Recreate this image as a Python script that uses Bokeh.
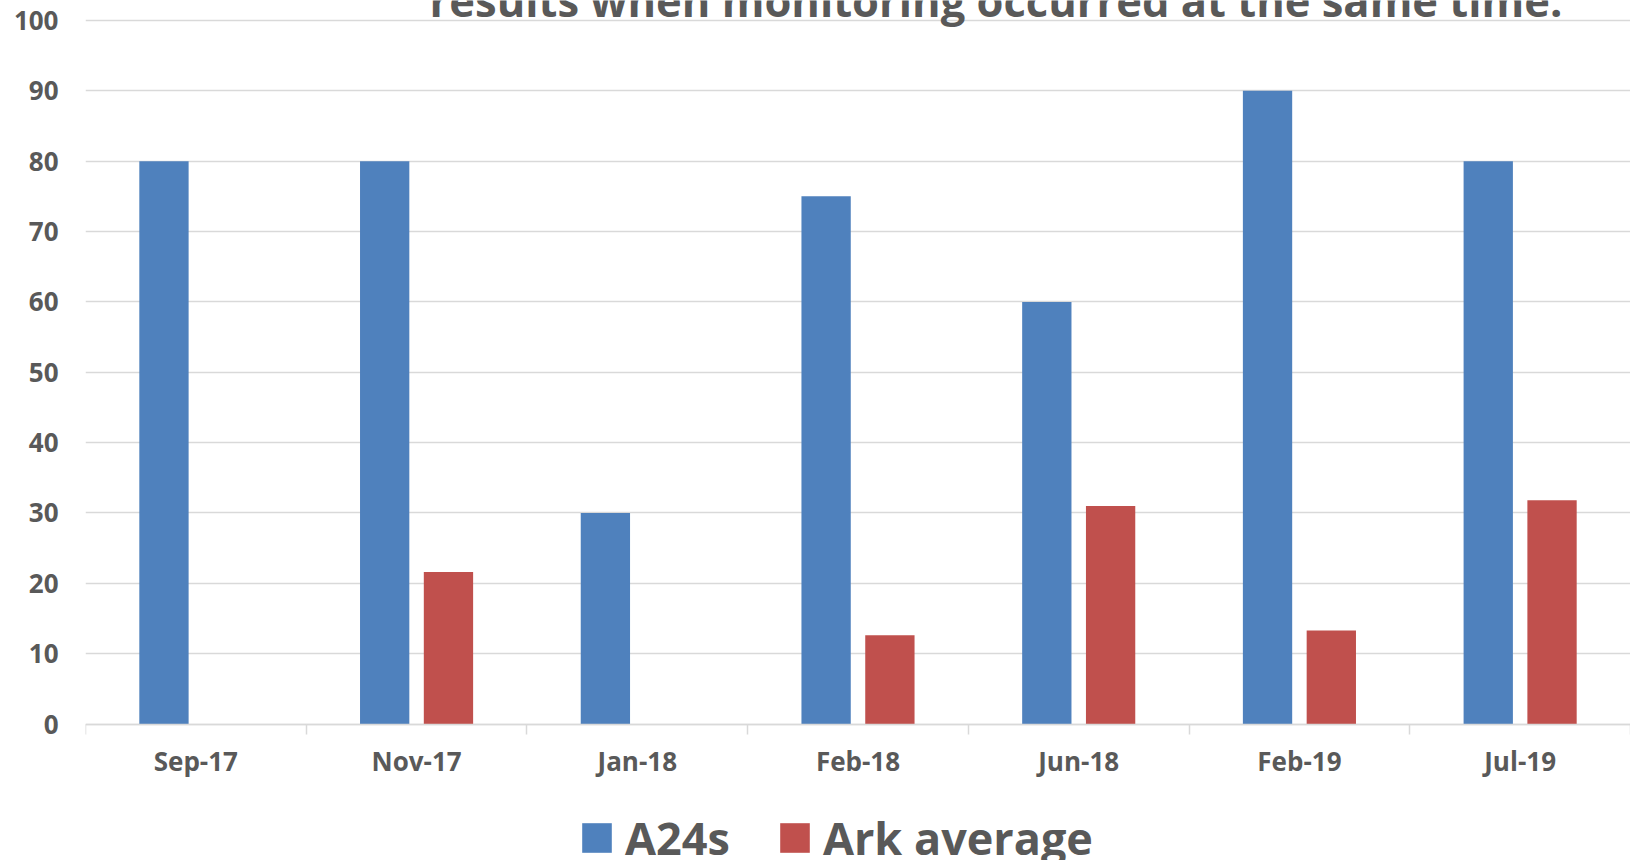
from bokeh.plotting import figure
from bokeh.models import (Range1d, FixedTicker, LinearAxis, Legend, LegendItem, Label,
                          ColumnDataSource)
from bokeh.transform import dodge
from bokeh.embed import file_html
from bokeh.resources import INLINE

categories = ["Sep-17", "Nov-17", "Jan-18", "Feb-18", "Jun-18", "Feb-19", "Jul-19"]
a24s = [80, 80, 30, 75, 60, 90, 80]
ark_average = [float("nan"), 21.6, float("nan"), 12.6, 31.0, 13.3, 31.8]
y_ticks = [0, 10, 20, 30, 40, 50, 60, 70, 80, 90, 100]
series_names = ["A24s", "Ark average"]
title_text = "results when monitoring occurred at the same time."

colors = ["#4F81BD", "#C0504D"]
text_color = "#595959"
grid_color = "#D9D9D9"
FONT = "Open Sans"

n = len(categories)
centers = [i + 0.5 for i in range(n)]
bounds = list(range(n + 1))
src = ColumnDataSource(dict(x=centers, cat=categories, a=a24s, r=ark_average))

# frame fills the canvas height; the value axis runs 0..100 inside it
p = figure(width=1630, height=860, x_range=Range1d(0, n), y_range=Range1d(-19.4, 102.84),
           output_backend="svg", toolbar_location=None, x_axis_type=None,
           min_border_left=85, min_border_right=0, min_border_top=0, min_border_bottom=0)
p.outline_line_color = None

r1 = p.vbar(x=dodge("x", -0.1445), top="a", width=0.2234, source=src,
            fill_color=colors[0], line_color=None)
r2 = p.vbar(x=dodge("x", 0.1445), top="r", width=0.2234, source=src,
            fill_color=colors[1], line_color=None)

# y axis
yax = p.yaxis[0]
yax.ticker = FixedTicker(ticks=y_ticks)
yax.axis_line_color = None
yax.major_tick_line_color = None
yax.minor_tick_line_color = None
yax.major_tick_out = 0
yax.major_label_standoff = 27
yax.major_label_text_font = FONT
yax.major_label_text_font_style = "bold"
yax.major_label_text_font_size = "26px"
yax.major_label_text_color = text_color
p.ygrid.ticker = FixedTicker(ticks=y_ticks)
p.ygrid.grid_line_color = grid_color
p.ygrid.grid_line_width = 1.5

# category axis at y = 0: labels at category centres, tick marks (minor) at boundaries
xax = LinearAxis(fixed_location=0,
                 ticker=FixedTicker(ticks=centers, minor_ticks=bounds),
                 major_label_overrides={c: name for c, name in zip(centers, categories)},
                 axis_line_color=grid_color, axis_line_width=1.5,
                 major_tick_line_color=None, major_tick_out=0, major_tick_in=0,
                 minor_tick_line_color=grid_color, minor_tick_line_width=1.5,
                 minor_tick_out=10, minor_tick_in=0,
                 major_label_standoff=9,
                 major_label_text_font=FONT, major_label_text_font_style="bold",
                 major_label_text_font_size="26px", major_label_text_color=text_color)
p.add_layout(xax, "below")

legend = Legend(items=[LegendItem(label=series_names[0], renderers=[r1]),
                       LegendItem(label=series_names[1], renderers=[r2])],
                orientation="horizontal", location=(493, -8),
                label_text_font=FONT, label_text_font_style="bold",
                label_text_font_size="45px", label_text_color=text_color,
                glyph_width=37, glyph_height=37, label_standoff=10, spacing=46,
                padding=0, margin=0, border_line_color=None, background_fill_alpha=0)
p.add_layout(legend, "center")

title = Label(x=4.125, y=102.8, text=title_text, text_align="center",
              text_baseline="alphabetic", text_font=FONT, text_font_style="bold",
              text_font_size="43.5px", text_color=text_color)
p.add_layout(title)

open("out.html", "w").write(file_html(p, INLINE))
